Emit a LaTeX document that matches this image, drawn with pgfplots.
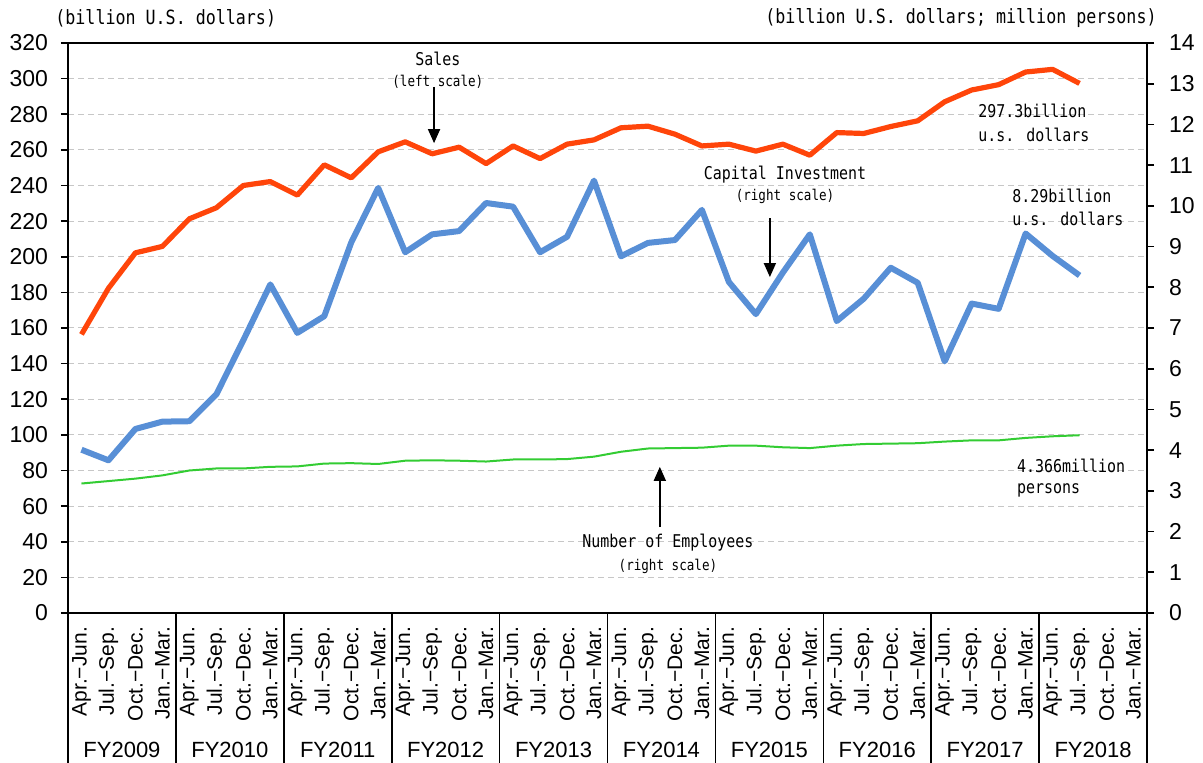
\documentclass[border=0pt]{standalone}
\usepackage{fontspec}
\setmainfont{Liberation Sans}
\newfontfamily\gothic{DejaVu Sans Mono}[FakeStretch=0.85]
\usepackage{pgfplots}
\pgfplotsset{compat=1.18}
\usetikzlibrary{arrows.meta}
\definecolor{salesc}{RGB}{255,69,10}
\definecolor{capc}{RGB}{88,143,214}
\definecolor{empc}{RGB}{51,204,51}

\begin{document}
\begin{tikzpicture}
\useasboundingbox (-34pt,-75pt) rectangle (567.5pt,306.5pt);
% left axis: sales
\begin{axis}[
  at={(0,0)}, anchor=south west,
  width=539.5pt, height=285pt, scale only axis,
  xmin=-0.5, xmax=39.5, ymin=0, ymax=320,
  axis x line*=bottom, axis y line*=left,
  axis line style={line width=1pt, black},
  ytick={0,20,...,320},
  ymajorgrids, major grid style={densely dashed, black!22, line width=0.5pt},
  ytick style={line width=0.8pt, black},
  tick align=outside, major tick length=3.5pt,
  yticklabel style={font=\fontsize{11.5}{12}\selectfont, xshift=-3pt},
  /pgf/number format/assume math mode=true,
  xtick={0,...,39},
  xticklabels={Apr.−Jun.,Jul.−Sep.,Oct.−Dec.,Jan.−Mar.,Apr.−Jun.,Jul.−Sep.,Oct.−Dec.,Jan.−Mar.,Apr.−Jun.,Jul.−Sep.,Oct.−Dec.,Jan.−Mar.,Apr.−Jun.,Jul.−Sep.,Oct.−Dec.,Jan.−Mar.,Apr.−Jun.,Jul.−Sep.,Oct.−Dec.,Jan.−Mar.,Apr.−Jun.,Jul.−Sep.,Oct.−Dec.,Jan.−Mar.,Apr.−Jun.,Jul.−Sep.,Oct.−Dec.,Jan.−Mar.,Apr.−Jun.,Jul.−Sep.,Oct.−Dec.,Jan.−Mar.,Apr.−Jun.,Jul.−Sep.,Oct.−Dec.,Jan.−Mar.,Apr.−Jun.,Jul.−Sep.,Oct.−Dec.,Jan.−Mar.},
  xticklabel style={rotate=90, anchor=east, font=\fontsize{10.5}{12}\selectfont},
  x tick style={draw=none},
  extra x ticks={-0.5,0.5,...,39.5},
  extra x tick labels={},
  extra x tick style={grid=none, major tick length=55pt, tick style={draw=black, line width=0.8pt}},
  clip=false,
]
\addplot[salesc, line width=2.6pt, line join=round] coordinates {
(0,156.4) (1,182.3) (2,202.2) (3,205.8) (4,221.3) (5,227.5) (6,240.0) (7,242.2)
(8,234.6) (9,251.6) (10,244.3) (11,258.9) (12,264.5) (13,257.8) (14,261.5) (15,252.3)
(16,262.2) (17,255.1) (18,263.2) (19,265.6) (20,272.4) (21,273.3) (22,268.8) (23,262.2)
(24,263.2) (25,259.3) (26,263.2) (27,257.0) (28,269.7) (29,269.2) (30,273.1) (31,276.3)
(32,287.0) (33,293.6) (34,296.6) (35,303.7) (36,305.2) (37,297.3)};
\pgfplotsinvokeforeach{-0.5,3.5,7.5,11.5,15.5,19.5,23.5,27.5,31.5,35.5,39.5}{
  \draw[black, line width=0.8pt] (axis cs:#1,0) -- ++(0pt,-75pt);
}
\node[font=\fontsize{11}{12}\selectfont] at (axis cs:1.5,0) [yshift=-68.5pt] {FY2009};
\node[font=\fontsize{11}{12}\selectfont] at (axis cs:5.5,0) [yshift=-68.5pt] {FY2010};
\node[font=\fontsize{11}{12}\selectfont] at (axis cs:9.5,0) [yshift=-68.5pt] {FY2011};
\node[font=\fontsize{11}{12}\selectfont] at (axis cs:13.5,0) [yshift=-68.5pt] {FY2012};
\node[font=\fontsize{11}{12}\selectfont] at (axis cs:17.5,0) [yshift=-68.5pt] {FY2013};
\node[font=\fontsize{11}{12}\selectfont] at (axis cs:21.5,0) [yshift=-68.5pt] {FY2014};
\node[font=\fontsize{11}{12}\selectfont] at (axis cs:25.5,0) [yshift=-68.5pt] {FY2015};
\node[font=\fontsize{11}{12}\selectfont] at (axis cs:29.5,0) [yshift=-68.5pt] {FY2016};
\node[font=\fontsize{11}{12}\selectfont] at (axis cs:33.5,0) [yshift=-68.5pt] {FY2017};
\node[font=\fontsize{11}{12}\selectfont] at (axis cs:37.5,0) [yshift=-68.5pt] {FY2018};
\end{axis}
% right axis: capital investment and employees
\begin{axis}[
  at={(0,0)}, anchor=south west,
  width=539.5pt, height=285pt, scale only axis,
  xmin=-0.5, xmax=39.5, ymin=0, ymax=14,
  axis x line*=top, axis y line*=right,
  axis line style={line width=1pt, black},
  xtick=\empty,
  ytick={0,1,...,14},
  ytick style={line width=0.8pt, black},
  tick align=outside, major tick length=3.5pt,
  yticklabel style={font=\fontsize{11.5}{12}\selectfont, xshift=4pt},
  /pgf/number format/assume math mode=true,
  clip=false,
]
\addplot[capc, line width=3pt, line join=round] coordinates {
(0,4.01) (1,3.75) (2,4.52) (3,4.70) (4,4.71) (5,5.37) (6,6.70) (7,8.07)
(8,6.88) (9,7.29) (10,9.10) (11,10.44) (12,8.86) (13,9.30) (14,9.38) (15,10.07)
(16,9.98) (17,8.86) (18,9.24) (19,10.62) (20,8.76) (21,9.09) (22,9.16) (23,9.90)
(24,8.13) (25,7.34) (26,8.36) (27,9.30) (28,7.17) (29,7.72) (30,8.48) (31,8.11)
(32,6.18) (33,7.60) (34,7.47) (35,9.32) (36,8.77) (37,8.29)};
\addplot[empc, line width=1pt] coordinates {
(0,3.18) (1,3.24) (2,3.30) (3,3.38) (4,3.50) (5,3.55) (6,3.55) (7,3.59)
(8,3.60) (9,3.67) (10,3.68) (11,3.66) (12,3.74) (13,3.75) (14,3.74) (15,3.72)
(16,3.77) (17,3.77) (18,3.78) (19,3.84) (20,3.96) (21,4.04) (22,4.05) (23,4.06)
(24,4.11) (25,4.11) (26,4.07) (27,4.05) (28,4.11) (29,4.15) (30,4.16) (31,4.17)
(32,4.21) (33,4.24) (34,4.24) (35,4.30) (36,4.34) (37,4.366)};
% annotations
\node[font=\gothic\fontsize{8.8}{10}\selectfont] at (axis cs:13.21,13.61) {Sales};
\node[font=\gothic\fontsize{7.4}{9}\selectfont] at (axis cs:13.21,13.04) {(left scale)};
\draw[-{Triangle[width=6pt,length=7pt]}, line width=0.8pt] (axis cs:13.07,12.92) -- (axis cs:13.07,11.54);
\node[font=\gothic\fontsize{8.8}{10}\selectfont] at (axis cs:26.08,10.76) {Capital Investment};
\node[font=\gothic\fontsize{7.4}{9}\selectfont] at (axis cs:26.08,10.24) {(right scale)};
\draw[-{Triangle[width=6pt,length=7pt]}, line width=0.8pt] (axis cs:25.52,9.70) -- (axis cs:25.52,8.25);
\node[font=\gothic\fontsize{8.8}{10}\selectfont, anchor=west, inner sep=0pt] at (axis cs:33.23,12.33) {297.3billion};
\node[font=\gothic\fontsize{8.8}{10}\selectfont, anchor=west, inner sep=0pt] at (axis cs:33.23,11.74) {u.s. dollars};
\node[font=\gothic\fontsize{8.8}{10}\selectfont, anchor=west, inner sep=0pt] at (axis cs:34.49,10.24) {8.29billion};
\node[font=\gothic\fontsize{8.8}{10}\selectfont, anchor=west, inner sep=0pt] at (axis cs:34.49,9.68) {u.s. dollars};
\node[font=\gothic\fontsize{8.8}{10}\selectfont, anchor=west, inner sep=0pt] at (axis cs:34.67,3.61) {4.366million};
\node[font=\gothic\fontsize{8.8}{10}\selectfont, anchor=west, inner sep=0pt] at (axis cs:34.67,3.02) {persons};
\draw[-{Triangle[width=6pt,length=7pt]}, line width=0.8pt] (axis cs:21.44,2.11) -- (axis cs:21.44,3.59);
\node[font=\gothic\fontsize{8.8}{10}\selectfont] at (axis cs:21.74,1.72) {Number of Employees};
\node[font=\gothic\fontsize{7.4}{9}\selectfont] at (axis cs:21.74,1.15) {(right scale)};
\end{axis}
\node[font=\gothic\fontsize{9.8}{11}\selectfont, anchor=west, inner sep=0pt] at (-6.5pt,297.5pt) {(billion U.S. dollars)};
\node[font=\gothic\fontsize{9.8}{11}\selectfont, anchor=east, inner sep=0pt] at (544.5pt,297.5pt) {(billion U.S. dollars; million persons)};
\end{tikzpicture}
\end{document}
